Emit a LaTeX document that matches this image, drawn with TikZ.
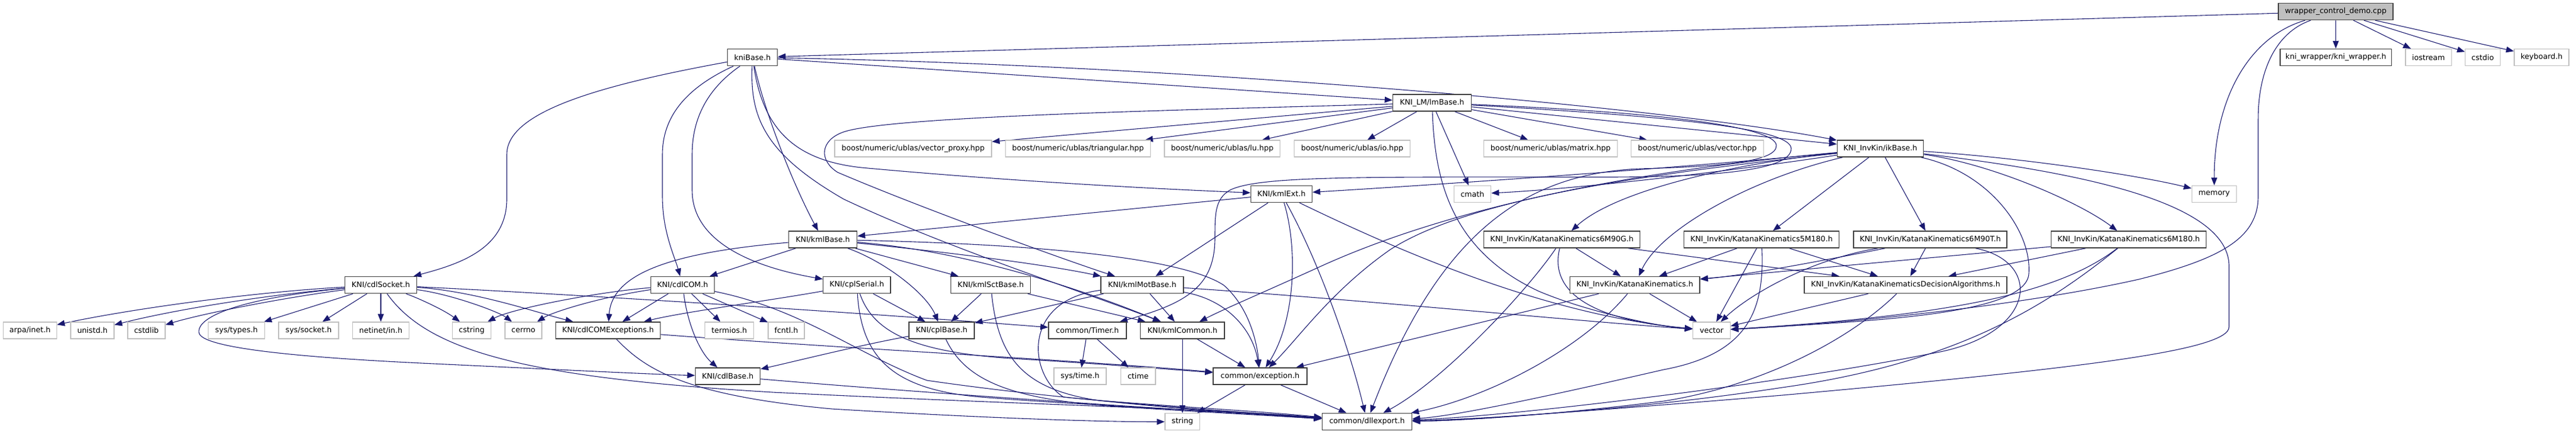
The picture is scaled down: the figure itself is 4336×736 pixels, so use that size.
\documentclass[tikz,border=0pt]{standalone}
\usepackage{fontspec}
\setmainfont{DejaVu Sans}
\usetikzlibrary{arrows.meta}
\definecolor{edgec}{HTML}{191970}
\definecolor{grayb}{HTML}{BFBFBF}
\definecolor{darkb}{HTML}{404040}
\pgfdeclarelayer{bg}
\pgfsetlayers{bg,main}
\tikzset{
 base/.style={rectangle, inner sep=0pt, minimum height=14pt, font=\fontsize{6.3}{7}\selectfont, fill=white, text=black},
 nb/.style={base, draw=darkb, line width=0.75pt},
 ng/.style={base, draw=grayb, line width=0.6pt},
 nroot/.style={base, draw=darkb, line width=0.75pt, fill=grayb},
 edg/.style={draw=edgec, line width=0.55pt, -{Triangle[length=6.5pt,width=5pt]}},
}
\begin{document}
\begin{tikzpicture}[x=0.5pt,y=-0.5pt]
\useasboundingbox (0,0) rectangle (4336,736);
% nodes
\node[nroot, minimum width=96.5pt] (W) at (3931.5,19.5) {wrapper\_control\_demo.cpp};
\node[nb, minimum width=42pt] (KB) at (1266.6,96.5) {kniBase.h};
\node[nb, minimum width=93.75pt] (KW) at (3931.7,96.5) {kni\_wrapper/kni\_wrapper.h};
\node[ng, minimum width=38.85pt] (IOS) at (4087.7,96.5) {iostream};
\node[ng, minimum width=29.5pt] (CSTDIO) at (4179,96.5) {cstdio};
\node[ng, minimum width=46pt] (KEY) at (4278,96.5) {keyboard.h};
\node[nb, minimum width=66pt] (LM) at (2410.5,173) {KNI\_LM/lmBase.h};
\node[ng, minimum width=132pt] (VP) at (1537,250) {boost/numeric/ublas/vector\_proxy.hpp};
\node[ng, minimum width=122pt] (TR) at (1814.5,250) {boost/numeric/ublas/triangular.hpp};
\node[ng, minimum width=97.3pt] (LU) at (2057.3,250) {boost/numeric/ublas/lu.hpp};
\node[ng, minimum width=97.3pt] (IO) at (2276,250) {boost/numeric/ublas/io.hpp};
\node[ng, minimum width=112.5pt] (MX) at (2610,250) {boost/numeric/ublas/matrix.hpp};
\node[ng, minimum width=111.5pt] (VH) at (2857,250) {boost/numeric/ublas/vector.hpp};
\node[nb, minimum width=72.5pt] (IK) at (3165,250) {KNI\_InvKin/ikBase.h};
\node[nb, minimum width=51.5pt] (KE) at (2157,326.5) {KNI/kmlExt.h};
\node[ng, minimum width=31.2pt] (CM) at (2478.4,326.5) {cmath};
\node[ng, minimum width=37.7pt] (ME) at (3727,326.5) {memory};
\node[nb, minimum width=57.5pt] (KM) at (1385,403) {KNI/kmlBase.h};
\node[nb, minimum width=131.5pt] (G6) at (2629,403) {KNI\_InvKin/KatanaKinematics6M90G.h};
\node[nb, minimum width=130.5pt] (K5) at (2965,403) {KNI\_InvKin/KatanaKinematics5M180.h};
\node[nb, minimum width=129pt] (T6) at (3249,403) {KNI\_InvKin/KatanaKinematics6M90T.h};
\node[nb, minimum width=130.3pt] (K6) at (3583,403) {KNI\_InvKin/KatanaKinematics6M180.h};
\node[nb, minimum width=60.5pt] (CS) at (641,479.5) {KNI/cdlSocket.h};
\node[nb, minimum width=53.3pt] (CC) at (1149,479.5) {KNI/cdlCOM.h};
\node[nb, minimum width=56.65pt] (SE) at (1442.3,479.5) {KNI/cplSerial.h};
\node[nb, minimum width=67pt] (SB) at (1667.6,479.5) {KNI/kmlSctBase.h};
\node[nb, minimum width=69.5pt] (MB) at (1922.5,479.5) {KNI/kmlMotBase.h};
\node[nb, minimum width=109.35pt] (KK) at (2751.7,479.5) {KNI\_InvKin/KatanaKinematics.h};
\node[nb, minimum width=170.5pt] (DA) at (3207.5,479.5) {KNI\_InvKin/KatanaKinematicsDecisionAlgorithms.h};
\node[ng, minimum width=44.9pt] (AI) at (50.5,556) {arpa/inet.h};
\node[ng, minimum width=36.5pt] (UN) at (155.5,556) {unistd.h};
\node[ng, minimum width=31.5pt] (SL) at (246.5,556) {cstdlib};
\node[ng, minimum width=47.25pt] (STY) at (398,556) {sys/types.h};
\node[ng, minimum width=50.5pt] (SSO) at (519.5,556) {sys/socket.h};
\node[ng, minimum width=47.25pt] (NI) at (641,556) {netinet/in.h};
\node[ng, minimum width=32.8pt] (CSTR) at (794,556) {cstring};
\node[ng, minimum width=31pt] (CER) at (881,556) {cerrno};
\node[nb, minimum width=88pt] (CE) at (1023.5,556) {KNI/cdlCOMExceptions.h};
\node[ng, minimum width=41pt] (TE) at (1227.5,556) {termios.h};
\node[ng, minimum width=30.5pt] (FC) at (1323.5,556) {fcntl.h};
\node[nb, minimum width=55.15pt] (PB) at (1585,556) {KNI/cplBase.h};
\node[nb, minimum width=65.4pt] (TI) at (1830.4,556) {common/Timer.h};
\node[nb, minimum width=70.75pt] (KC) at (1990.3,556) {KNI/kmlCommon.h};
\node[ng, minimum width=31.5pt] (VE) at (2881,556) {vector};
\node[nb, minimum width=54.5pt] (CB) at (1225,633) {KNI/cdlBase.h};
\node[ng, minimum width=44pt] (STI) at (1818,633) {sys/time.h};
\node[ng, minimum width=29.25pt] (CT) at (1915.7,633) {ctime};
\node[nb, minimum width=78.8pt] (EX) at (2121,633) {common/exception.h};
\node[ng, minimum width=29.3pt] (SG) at (1990.3,709.5) {string};
\node[nb, minimum width=75.5pt] (DL) at (2301,709.5) {common/dllexport.h};

\begin{pgfonlayer}{bg}
\fill[white] (0,0) rectangle (4336,736);
% wrapper
\draw[edg] (W) -- (KB);
\draw[edg] (W) -- (KW);
\draw[edg] (W) -- (IOS);
\draw[edg] (W) -- (CSTDIO);
\draw[edg] (W) -- (KEY);
\draw[edg] (W) .. controls (3790,60) and (3727,160) .. (ME);
\draw[edg] (W) .. controls (3830,55) and (3801,120) .. (3801,200) -- (3801,330) .. controls (3801,400) and (3740,435) .. (3600,470) .. controls (3400,515) and (3100,545) .. (VE);
% kniBase
\draw[edg] (KB) .. controls (1000,145) and (853,190) .. (853,260) -- (853,335) .. controls (853,420) and (770,445) .. (CS);
\draw[edg] (KB) .. controls (1150,150) and (1115,200) .. (1115,260) -- (1115,330) .. controls (1115,390) and (1135,430) .. (CC);
\draw[edg] (KB) .. controls (1190,150) and (1165,200) .. (1165,260) -- (1165,320) .. controls (1165,420) and (1300,455) .. (SE);
\draw[edg] (KB) .. controls (1290,200) and (1340,320) .. (KM);
\draw[edg] (KB) .. controls (1285,220) and (1340,270) .. (1450,282) .. controls (1700,305) and (1950,318) .. (KE);
\draw[edg] (KB) .. controls (1262,200) and (1290,260) .. (1420,335) .. controls (1600,420) and (1850,500) .. (KC);
\draw[edg] (KB) -- (LM);
\draw[edg] (KB) .. controls (2000,110) and (2800,180) .. (IK);
% lmBase
\draw[edg] (LM) -- (VP);
\draw[edg] (LM) -- (TR);
\draw[edg] (LM) -- (LU);
\draw[edg] (LM) -- (IO);
\draw[edg] (LM) -- (MX);
\draw[edg] (LM) -- (VH);
\draw[edg] (LM) -- (CM);
\draw[edg] (LM) -- (IK);
\draw[edg] (LM) .. controls (2415,300) and (2440,420) .. (2590,490) .. controls (2680,528) and (2800,550) .. (VE);
\draw[edg] (LM) .. controls (2000,185) and (1500,195) .. (1420,222) .. controls (1380,236) and (1378,270) .. (1410,290) .. controls (1550,350) and (1800,440) .. (MB);
\draw[edg] (LM) .. controls (2800,195) and (3015,215) .. (3015,250) .. controls (3015,285) and (2900,298) .. (2700,298) .. controls (2300,298) and (2120,295) .. (2070,320) .. controls (2045,335) and (2045,360) .. (2045,400) .. controls (2045,480) and (2000,510) .. (TI);
\draw[edg] (LM) .. controls (2780,188) and (2990,212) .. (2990,245) .. controls (2990,272) and (2900,280) .. (2760,284) .. controls (2560,292) and (2420,400) .. (DL);
% ikBase
\draw[edg] (IK) .. controls (2800,285) and (2400,312) .. (KE);
\draw[edg] (IK) .. controls (2900,290) and (2650,318) .. (CM);
\draw[edg] (IK) .. controls (3400,265) and (3600,295) .. (ME);
\draw[edg] (IK) .. controls (3350,290) and (3420,390) .. (3415,460) .. controls (3412,530) and (3150,540) .. (VE);
\draw[edg] (IK) .. controls (3500,290) and (3755,340) .. (3752,450) -- (3752,550) .. controls (3752,590) and (3500,620) .. (3000,665) .. controls (2700,690) and (2450,708) .. (DL);
\draw[edg] (IK) .. controls (2800,290) and (2480,330) .. (2340,420) .. controls (2240,490) and (2185,570) .. (EX);
\draw[edg] (IK) .. controls (2700,292) and (2420,360) .. (2230,445) .. controls (2120,495) and (2060,520) .. (KC);
\draw[edg] (IK) .. controls (2920,275) and (2720,320) .. (G6);
\draw[edg] (IK) .. controls (2950,300) and (2795,385) .. (KK);
\draw[edg] (IK) -- (K5);
\draw[edg] (IK) -- (T6);
\draw[edg] (IK) .. controls (3350,275) and (3500,340) .. (K6);
% 6M90G
\draw[edg] (G6) -- (KK);
\draw[edg] (G6) .. controls (2612,470) and (2640,535) .. (VE);
\draw[edg] (G6) .. controls (2570,490) and (2430,640) .. (DL);
\draw[edg] (G6) -- (DA);
% 5M180
\draw[edg] (K5) -- (KK);
\draw[edg] (K5) -- (DA);
\draw[edg] (K5) -- (VE);
\draw[edg] (K5) .. controls (2970,520) and (2945,595) .. (2800,622) .. controls (2600,668) and (2450,700) .. (DL);
% 6M90T
\draw[edg] (T6) -- (DA);
\draw[edg] (T6) .. controls (3100,432) and (2950,462) .. (KK);
\draw[edg] (T6) .. controls (3040,438) and (2940,500) .. (VE);
\draw[edg] (T6) .. controls (3440,440) and (3430,565) .. (3250,595) .. controls (3000,645) and (2550,700) .. (DL);
% 6M180
\draw[edg] (K6) -- (DA);
\draw[edg] (K6) -- (KK);
\draw[edg] (K6) .. controls (3470,490) and (3300,530) .. (VE);
\draw[edg] (K6) .. controls (3450,510) and (3300,610) .. (3000,652) .. controls (2750,690) and (2500,705) .. (DL);
% DecisionAlgorithms
\draw[edg] (DA) -- (VE);
\draw[edg] (DA) .. controls (3110,575) and (2960,650) .. (2800,675) .. controls (2600,700) and (2450,708) .. (DL);
% KatanaKinematics
\draw[edg] (KK) -- (VE);
\draw[edg] (KK) .. controls (2660,590) and (2500,670) .. (DL);
\draw[edg] (KK) -- (EX);
% kmlExt
\draw[edg] (KE) -- (KM);
\draw[edg] (KE) -- (MB);
\draw[edg] (KE) .. controls (2185,420) and (2180,540) .. (EX);
\draw[edg] (KE) .. controls (2225,450) and (2275,600) .. (DL);
\draw[edg] (KE) .. controls (2350,420) and (2600,530) .. (VE);
% kmlBase
\draw[edg] (KM) -- (CC);
\draw[edg] (KM) .. controls (1130,425) and (1030,460) .. (CE);
\draw[edg] (KM) .. controls (1490,440) and (1560,495) .. (PB);
\draw[edg] (KM) -- (SB);
\draw[edg] (KM) .. controls (1600,425) and (1760,445) .. (MB);
\draw[edg] (KM) .. controls (1600,420) and (1780,470) .. (KC);
\draw[edg] (KM) .. controls (1800,412) and (2000,440) .. (2060,480) .. controls (2100,515) and (2115,570) .. (EX);
% kmlMotBase
\draw[edg] (MB) -- (PB);
\draw[edg] (MB) -- (KC);
\draw[edg] (MB) .. controls (2070,505) and (2110,560) .. (EX);
\draw[edg] (MB) .. controls (2300,505) and (2650,540) .. (VE);
\draw[edg] (MB) .. controls (1720,505) and (1730,630) .. (1790,668) .. controls (1900,680) and (2100,690) .. (DL);
% kmlSctBase
\draw[edg] (SB) -- (PB);
\draw[edg] (SB) -- (KC);
\draw[edg] (SB) .. controls (1680,600) and (1720,655) .. (1850,674) .. controls (1980,688) and (2100,695) .. (DL);
% kmlCommon, Timer, exception
\draw[edg] (KC) -- (EX);
\draw[edg] (KC) -- (SG);
\draw[edg] (TI) -- (STI);
\draw[edg] (TI) -- (CT);
\draw[edg] (EX) -- (SG);
\draw[edg] (EX) -- (DL);
% cplSerial
\draw[edg] (SE) .. controls (1300,505) and (1150,525) .. (CE);
\draw[edg] (SE) -- (PB);
\draw[edg] (SE) .. controls (1470,560) and (1540,592) .. (1700,603) .. controls (1850,612) and (1950,620) .. (EX);
\draw[edg] (SE) .. controls (1450,600) and (1500,655) .. (1650,668) .. controls (1850,684) and (2050,690) .. (DL);
% cplBase
\draw[edg] (PB) .. controls (1450,580) and (1330,610) .. (CB);
\draw[edg] (PB) .. controls (1625,640) and (1700,672) .. (1880,684) .. controls (2000,692) and (2100,697) .. (DL);
% cdlCOMExceptions, cdlBase
\draw[edg] (CE) .. controls (1400,585) and (1800,605) .. (EX);
\draw[edg] (CE) .. controls (1085,620) and (1150,665) .. (1400,688) .. controls (1700,706) and (1880,710) .. (SG);
\draw[edg] (CB) .. controls (1600,665) and (2000,690) .. (DL);
% cdlCOM
\draw[edg] (CC) .. controls (1000,492) and (860,520) .. (CSTR);
\draw[edg] (CC) .. controls (1010,500) and (930,525) .. (CER);
\draw[edg] (CC) -- (CE);
\draw[edg] (CC) -- (TE);
\draw[edg] (CC) -- (FC);
\draw[edg] (CC) .. controls (1158,550) and (1180,595) .. (CB);
\draw[edg] (CC) .. controls (1350,520) and (1440,595) .. (1560,640) .. controls (1800,675) and (2050,690) .. (DL);
% cdlSocket
\draw[edg] (CS) .. controls (420,492) and (220,520) .. (AI);
\draw[edg] (CS) .. controls (440,497) and (290,522) .. (UN);
\draw[edg] (CS) .. controls (470,502) and (340,528) .. (SL);
\draw[edg] (CS) -- (STY);
\draw[edg] (CS) -- (SSO);
\draw[edg] (CS) -- (NI);
\draw[edg] (CS) .. controls (700,500) and (745,520) .. (CSTR);
\draw[edg] (CS) .. controls (760,495) and (840,525) .. (CER);
\draw[edg] (CS) .. controls (800,490) and (900,525) .. (CE);
\draw[edg] (CS) .. controls (420,500) and (330,530) .. (335,560) .. controls (340,592) and (600,606) .. (730,612) .. controls (900,620) and (1100,630) .. (CB);
\draw[edg] (CS) .. controls (1000,497) and (1500,530) .. (TI);
\draw[edg] (CS) .. controls (720,590) and (880,635) .. (1300,660) .. controls (1700,680) and (2050,688) .. (DL);
\end{pgfonlayer}
\end{tikzpicture}
\end{document}
